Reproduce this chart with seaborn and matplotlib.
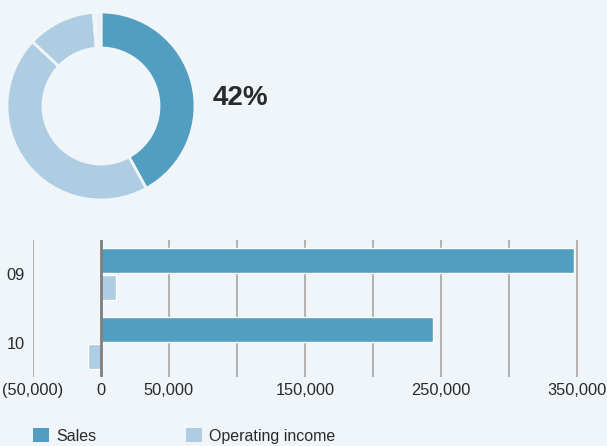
import matplotlib
matplotlib.use("Agg")
import matplotlib.pyplot as plt
import seaborn as sns
import pandas as pd
from matplotlib.patches import Patch

# ---- data ----
years = ["09", "10"]
sales = [347800, 244100]
operating_income = [11000, -9500]
series_names = ["Sales", "Operating income"]

donut_values = [42, 45, 11.7, 0.5, 0.8]
donut_label = "42%"

xticks_grid = [-50000, 0, 50000, 100000, 150000, 200000, 250000, 300000, 350000]
xtick_labels = {-50000: "(50,000)", 0: "0", 50000: "50,000", 150000: "150,000",
                250000: "250,000", 350000: "350,000"}

# ---- style ----
BG = "#f0f5fa"
DARK = "#529ec0"
LIGHT = "#aecde2"
PALE = "#e2edf5"
TXT = "#2a2a2a"

sns.set_theme(style="white")
plt.rcParams["font.family"] = ["Liberation Sans", "DejaVu Sans"]

W, H = 607, 446
fig = plt.figure(figsize=(W / 100, H / 100), dpi=100, facecolor=BG)

# ---- donut ----
cx, cy, r = 101, 106, 94
axp = fig.add_axes([(cx - r) / W, 1 - (cy + r) / H, 2 * r / W, 2 * r / H])
axp.set_facecolor(BG)
axp.pie(donut_values, colors=[DARK, LIGHT, LIGHT, LIGHT, PALE], startangle=90,
        counterclock=False, radius=1,
        wedgeprops=dict(width=36 / 94, edgecolor=BG, linewidth=2))
axp.set_xlim(-1, 1)
axp.set_ylim(-1, 1)
axp.set_aspect("auto")
fig.text(213 / W, 1 - 98 / H, donut_label, fontsize=20, fontweight="bold",
         color=TXT, ha="left", va="center")

# ---- bars ----
df = pd.DataFrame({
    "year": years * 2,
    "value": sales + operating_income,
    "series": [series_names[0]] * len(years) + [series_names[1]] * len(years),
})

x0, x1 = 33, 578
y0, y1 = 240, 377
ax = fig.add_axes([x0 / W, 1 - y1 / H, (x1 - x0) / W, (y1 - y0) / H])
ax.set_facecolor(BG)
sns.barplot(data=df, y="year", x="value", hue="series", orient="h",
            palette=[DARK, LIGHT], width=0.76, gap=0.05, ax=ax, legend=False,
            saturation=1, zorder=3)

ax.set_xlim(-50000, 351000)
ax.set_ylim(1.49, -0.49)
for v in xticks_grid:
    if v == 0:
        ax.axvline(v, color="#7f7f7f", lw=2, zorder=4)
    else:
        ax.axvline(v, color="#b3b3b3", lw=1.5, zorder=1)
ax.set_xticks(list(xtick_labels.keys()))
ax.set_xticklabels(list(xtick_labels.values()))
ax.tick_params(axis="both", length=0, labelsize=11.8, colors=TXT)
ax.tick_params(axis="x", pad=4)
ax.tick_params(axis="y", pad=6)
ax.set_xlabel("")
ax.set_ylabel("")
for s in ax.spines.values():
    s.set_visible(False)

# ---- legend ----
handles = [Patch(facecolor=DARK, edgecolor="none"), Patch(facecolor=LIGHT, edgecolor="none")]
fig.legend(handles, series_names, loc="center left",
           bbox_to_anchor=(33 / W, 1 - 436 / H), ncol=2, frameon=False,
           fontsize=11.5, handlelength=1.0, handleheight=1.0, handletextpad=0.45,
           columnspacing=5.6, borderpad=0, borderaxespad=0, labelcolor=TXT)

fig.savefig("out.png", dpi=100, facecolor=BG)
